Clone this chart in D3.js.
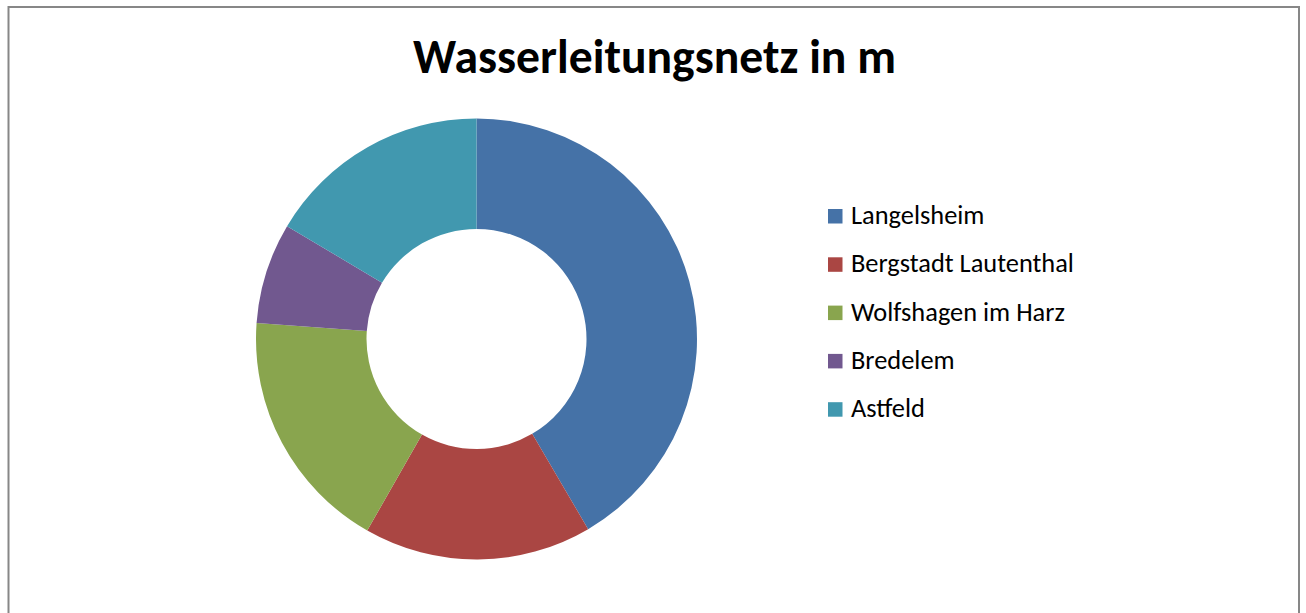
<!DOCTYPE html>
<html><head><meta charset="utf-8">
<script src="https://cdn.jsdelivr.net/npm/d3@7"></script>
<style>html,body{margin:0;padding:0;background:#fff;overflow:hidden}</style>
</head><body>
<svg id="c" width="1306" height="613"></svg>
<script>
const title = "Wasserleitungsnetz in m";
const categories = ["Langelsheim", "Bergstadt Lautenthal", "Wolfshagen im Harz", "Bredelem", "Astfeld"];
const values = [83100, 33400, 35800, 14800, 32900];
const colors = ["#4572A7", "#AA4643", "#89A54E", "#71588F", "#4198AF"];

const svg = d3.select("#c");
const FONT = "Carlito, Calibri, Lato, 'Open Sans', sans-serif";

svg.append("rect").attr("x", 8.5).attr("y", 7).attr("width", 1290.5).attr("height", 640)
  .attr("fill", "#fff").attr("stroke", "#878787").attr("stroke-width", 2);

function fitText(sel, targetWidth) {
  sel.attr("font-size", 100);
  const w = sel.node().getComputedTextLength();
  sel.attr("font-size", 100 * targetWidth / w);
}

const t = svg.append("text").text(title)
  .attr("x", 654.5).attr("y", 73).attr("text-anchor", "middle")
  .attr("font-family", FONT).attr("font-weight", "bold").attr("fill", "#000");
fitText(t, 483);

const cx = 476.5, cy = 339, R = 220.5, r = 110;
const pie = d3.pie().sort(null).value(d => d);
const arc = d3.arc().innerRadius(r).outerRadius(R);
const g = svg.append("g").attr("transform", `translate(${cx},${cy})`);
g.selectAll("path").data(pie(values)).join("path")
  .attr("d", arc).attr("fill", (d, i) => colors[i]);

const leg = svg.append("g");
const y0 = 216.5, dy = 48.3;
const color = d3.scaleOrdinal().domain(categories).range(colors);
const items = leg.selectAll("g").data(categories).join("g")
  .attr("transform", (d, i) => `translate(0,${y0 + i * dy})`);
items.append("rect").attr("x", 828).attr("y", -7.5).attr("width", 14.5).attr("height", 14.5)
  .attr("fill", d => color(d));
const lt = items.append("text").text(d => d).attr("x", 851).attr("y", 7.5)
  .attr("font-family", FONT).attr("fill", "#000");
// fit legend font by the longest label width
const probe = leg.select("g:nth-child(2) text");
probe.attr("font-size", 100);
const wl = probe.node().getComputedTextLength();
lt.attr("font-size", 100 * 223 / wl);
</script>
</body></html>
